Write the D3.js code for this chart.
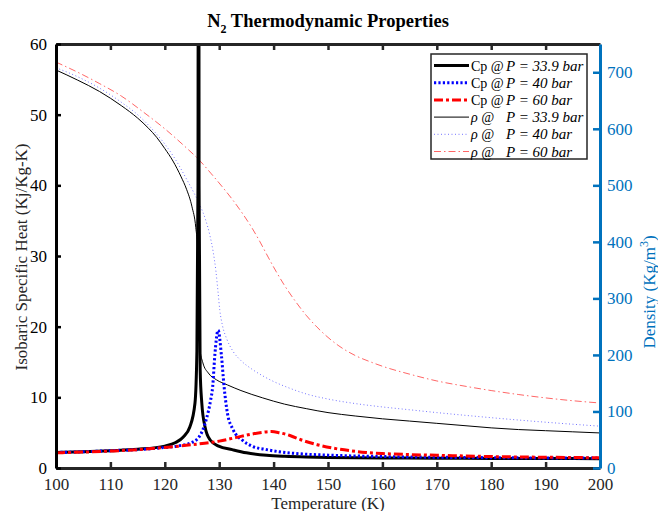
<!DOCTYPE html>
<html>
<head>
<meta charset="utf-8">
<script src="https://cdn.jsdelivr.net/npm/d3@7"></script>
<style>
  body { margin: 0; background: #fff; }
  svg text { font-family: "Liberation Serif", "Times New Roman", serif; }
</style>
</head>
<body>
<div id="chart"></div>
<script>
// ---------------- data ----------------
// Cp (kJ/kg-K) vs temperature (K)
let cp339T = [100,105,110,115,120,122,123.4,124.6,125.55,125.9,126.1,126.2,126.3,126.5,126.8,127.4,128.3,129.9,132.4,135,138.7,142,146,150,160,170,180,190,200];
let cp339  = [2.2,2.3,2.45,2.65,3.1,3.6,4.4,5.8,9.2,16.5,40,150,40,13.9,9.2,5.8,4.0,3.1,2.6,2.15,1.8,1.65,1.55,1.5,1.43,1.39,1.36,1.34,1.32];

let cp40T = [100,105,110,115,120,123,124.6,126.3,127.6,128.4,128.8,129.2,129.8,130.4,130.9,131.5,132.5,134.3,136,138.7,141,145,150,160,170,180,190,200];
let cp40  = [2.2,2.3,2.45,2.6,2.9,3.2,3.5,4.4,6.8,9.5,11.5,16,19.5,16,11.5,7.8,5.5,3.9,3.1,2.6,2.3,2.0,1.82,1.62,1.52,1.46,1.42,1.4];

let cp60T = [100,105,110,115,120,125,130,133,136,138,139.6,141,143,145,148,151,154,157,160,165,170,180,190,200];
let cp60  = [2.15,2.25,2.4,2.6,2.9,3.3,3.8,4.3,4.8,5.05,5.15,5.0,4.6,4.0,3.3,2.8,2.45,2.2,2.05,1.9,1.8,1.62,1.52,1.45];

// density (kg/m^3) vs temperature (K)
let rho339T = [100,104,108,112,115,117,118.5,120,121.5,123,124,125,125.7,126.0,126.15,126.25,126.4,127,128,129.5,131.5,134,138,142,146,150,155,160,165,170,175,180,185,190,195,200];
let rho339  = [704,686,666,641,619,601,585,565,543,515,493,462,425,390,340,270,215,186,168,156,147,137,124,113,105,98,92,87,83,79,75,71,68,66,64,62];

let rho40T = [100,104,108,112,115,118,120,122,124,125.5,126.5,127.5,128.3,128.9,129.4,129.8,130.1,130.6,131.4,132.5,134,136,138,140,143,146,150,155,160,165,170,180,190,200];
let rho40  = [708,692,672,647,625,596,573,545,511,484,464,439,411,382,348,310,280,252,228,207,190,175,163,153,141,131,122,114,108,103,98,89,81,74];

let rho60T = [100,104,108,112,116,120,124,126.3,128.5,130.6,132.5,134.3,136,137.5,139,140.5,142,144,146,148,150,152,155,158,160,165,170,175,180,185,190,195,200];
let rho60  = [718,700,680,658,630,600,566,545,521,497,474,450,425,400,373,347,323,295,270,249,231,216,199,187,180,166,154,145,137,130,124,119,115];

let xTicks = [100,110,120,130,140,150,160,170,180,190,200];
let yLeftTicks = [0,10,20,30,40,50,60];
let yRightTicks = [0,100,200,300,400,500,600,700];

let legendLabels = [
  ["Cp @", "P = 33.9 bar"], ["Cp @", "P = 40 bar"], ["Cp @", "P = 60 bar"],
  ["\u03c1 @", "P = 33.9 bar"], ["\u03c1 @", "P = 40 bar"], ["\u03c1 @", "P = 60 bar"]
];

// ---------------- layout ----------------
let width = 658, height = 511;
let mLeft = 56, mRight = 600, mTop = 44, mBottom = 468;
let axisBlue = "#0072BD";

let svg = d3.select("#chart").append("svg")
  .attr("width", width).attr("height", height);

let x = d3.scaleLinear().domain([100, 200]).range([mLeft, mRight]);
let yL = d3.scaleLinear().domain([0, 60]).range([mBottom, mTop]);
let yR = d3.scaleLinear().domain([0, 750]).range([mBottom, mTop]);

svg.append("clipPath").attr("id", "plotclip")
  .append("rect").attr("x", mLeft).attr("y", mTop)
  .attr("width", mRight - mLeft).attr("height", mBottom - mTop);

// series styles (stroke, width, dash, opacity)
let series = [
  {T: cp339T,  v: cp339,  y: yL, color: "#000",    w: 3,   dash: null,          op: 1},
  {T: cp40T,   v: cp40,   y: yL, color: "#0000ff", w: 3,   dash: "2.2,2.2",     op: 1},
  {T: cp60T,   v: cp60,   y: yL, color: "#ff0000", w: 3,   dash: "9,3,3,3",     op: 1},
  {T: rho339T, v: rho339, y: yR, color: "#000",    w: 1,   dash: null,          op: 1},
  {T: rho40T,  v: rho40,  y: yR, color: "#0000ff", w: 1,   dash: "1,2.5",       op: 0.55},
  {T: rho60T,  v: rho60,  y: yR, color: "#ff0000", w: 1,   dash: "7,3,1.5,3",   op: 0.6}
];

let plot = svg.append("g").attr("clip-path", "url(#plotclip)");
// density lines underneath, Cp lines on top
let drawOrder = [3, 4, 5, 0, 1, 2];
drawOrder.forEach(function(i) {
  let s = series[i];
  let pts = s.T.map(function(t, j) { return [t, s.v[j]]; });
  let line = d3.line()
    .x(function(d) { return x(d[0]); })
    .y(function(d) { return s.y(d[1]); })
    .curve(d3.curveMonotoneX);
  plot.append("path").datum(pts)
    .attr("d", line)
    .attr("fill", "none")
    .attr("stroke", s.color)
    .attr("stroke-width", s.w)
    .attr("stroke-opacity", s.op)
    .attr("stroke-dasharray", s.dash);
});

// ---------------- axes ----------------
function styleAxis(g, color, lw) {
  g.select(".domain").attr("stroke", color).attr("stroke-width", lw);
  g.selectAll(".tick line").attr("stroke", color).attr("stroke-width", 2.5);
  g.selectAll(".tick text").attr("fill", color)
    .style("font-family", "Liberation Serif").style("font-size", "17px");
}

let xAx = svg.append("g").attr("transform", `translate(0,${mBottom})`)
  .call(d3.axisBottom(x).tickValues(xTicks).tickSizeInner(-6).tickSizeOuter(0).tickPadding(10));
styleAxis(xAx, "#262626", 3);

let xTop = svg.append("g").attr("transform", `translate(0,${mTop})`)
  .call(d3.axisTop(x).tickValues(xTicks.slice(1, -1)).tickSizeInner(-6).tickSizeOuter(0).tickFormat(""));
styleAxis(xTop, "#262626", 3);

let yAx = svg.append("g").attr("transform", `translate(${mLeft},0)`)
  .call(d3.axisLeft(yL).tickValues(yLeftTicks).tickSizeInner(-5).tickSizeOuter(0).tickPadding(9));
styleAxis(yAx, "#000", 3);

let yAxR = svg.append("g").attr("transform", `translate(${mRight},0)`)
  .call(d3.axisRight(yR).tickValues(yRightTicks).tickSizeInner(-7).tickSizeOuter(0).tickPadding(7));
styleAxis(yAxR, axisBlue, 3);

// ---------------- labels ----------------
let title = svg.append("text")
  .attr("x", 328).attr("y", 27)
  .attr("text-anchor", "middle")
  .style("font-size", "18.5px").style("font-weight", "bold");
title.append("tspan").text("N");
title.append("tspan").attr("dy", 6).style("font-size", "12px").text("2");
title.append("tspan").attr("dy", -6).text(" Thermodynamic Properties");

svg.append("text")
  .attr("x", (mLeft + mRight) / 2).attr("y", 509)
  .attr("text-anchor", "middle").style("font-size", "17px").attr("fill", "#262626")
  .text("Temperature (K)");

svg.append("text")
  .attr("transform", `translate(27,257) rotate(-90)`)
  .attr("text-anchor", "middle").style("font-size", "17px").attr("fill", "#262626")
  .text("Isobaric Specific Heat (Kj/Kg-K)");

let rLab = svg.append("text")
  .attr("transform", `translate(655,292) rotate(-90)`)
  .attr("text-anchor", "middle").style("font-size", "17px").attr("fill", axisBlue);
rLab.append("tspan").text("Density (Kg/m");
rLab.append("tspan").attr("dy", -7).style("font-size", "12px").text("3");
rLab.append("tspan").attr("dy", 7).text(")");

// ---------------- legend ----------------
let lg = svg.append("g");
lg.append("rect").attr("x", 431).attr("y", 54).attr("width", 156).attr("height", 105)
  .attr("fill", "#fff").attr("stroke", "#262626").attr("stroke-width", 1.5);

legendLabels.forEach(function(lab, i) {
  let s = series[i];
  let yy = 65.5 + i * 17.2;
  lg.append("line").attr("x1", 434).attr("x2", 469).attr("y1", yy).attr("y2", yy)
    .attr("stroke", s.color).attr("stroke-width", s.w)
    .attr("stroke-opacity", s.op).attr("stroke-dasharray", s.dash);
  lg.append("text").attr("x", 471).attr("y", yy + 5)
    .style("font-size", "14px").style("font-style", i >= 3 ? "italic" : "normal")
    .attr("fill", "#000").text(lab[0]);
  lg.append("text").attr("x", 506).attr("y", yy + 5)
    .style("font-size", "15px").style("font-style", "italic")
    .attr("fill", "#000").text(lab[1]);
});
</script>
</body>
</html>
